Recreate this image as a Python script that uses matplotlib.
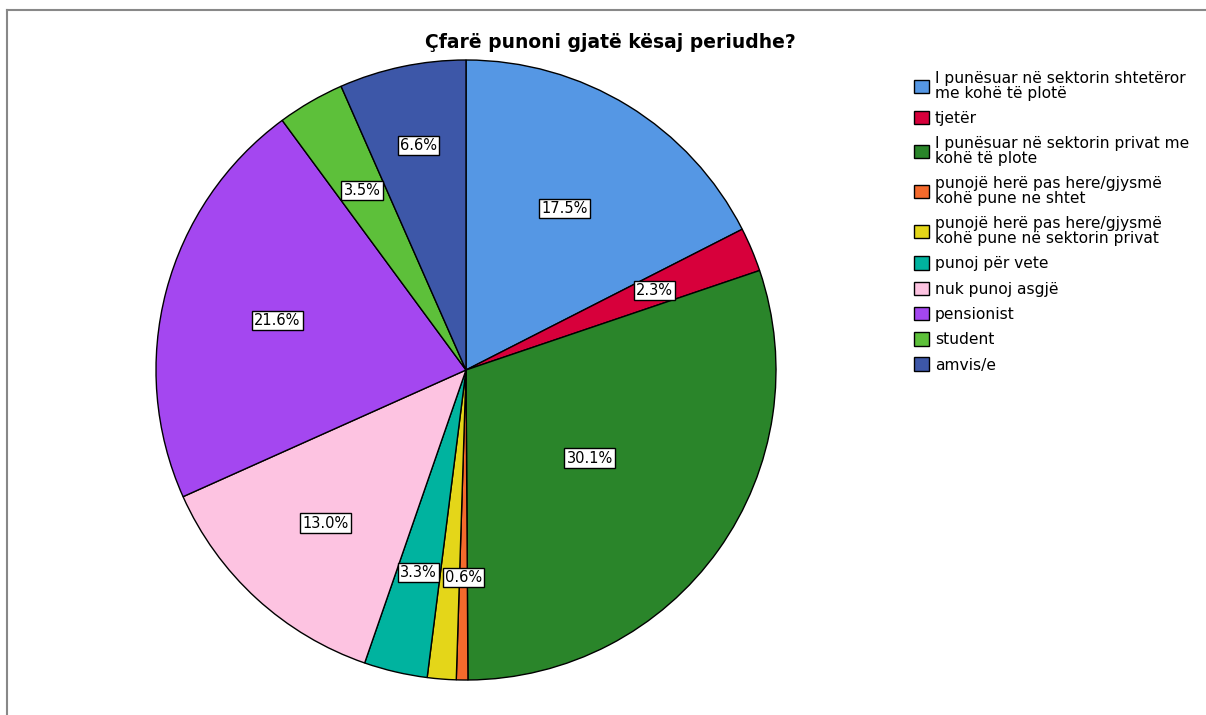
import numpy as np
import matplotlib.pyplot as plt
from matplotlib.patches import Patch

plt.rcParams['font.family'] = ['DejaVu Sans']

# categories and shares (percent), clockwise from 12 o'clock
labels = ['I punësuar në sektorin shtetëror\nme kohë të plotë',
          'tjetër',
          'I punësuar në sektorin privat me\nkohë të plote',
          'punojë herë pas here/gjysmë\nkohë pune ne shtet',
          'punojë herë pas here/gjysmë\nkohë pune në sektorin privat',
          'punoj për vete',
          'nuk punoj asgjë',
          'pensionist',
          'student',
          'amvis/e']
shares = [17.5, 2.3, 30.1, 0.6, 1.5, 3.3, 13.0, 21.6, 3.5, 6.6]
show_label = [True, True, True, True, False, True, True, True, True, True]
colors = ['#5597e4', '#d7003b', '#2a852a', '#f46a2c', '#e4d619',
          '#00b39f', '#fdc3e1', '#a447f0', '#5dc03a', '#3d57a8']
# radial position of each percentage box (fraction of radius)
label_r = [0.61, 0.66, 0.49, 0.67, 0.67, 0.67, 0.67, 0.63, 0.67, 0.74]

W, H = 1206, 715
fig = plt.figure(figsize=(W / 100, H / 100), dpi=100)

# thin grey frame at top and left
fig.add_artist(plt.Line2D([7 / W, 1], [1 - 10 / H, 1 - 10 / H], color='#888888', lw=1.5))
fig.add_artist(plt.Line2D([7 / W, 7 / W], [0, 1 - 10 / H], color='#888888', lw=1.5))

cx, cy, r = 466, 370, 310
ax = fig.add_axes([(cx - r) / W, (H - cy - r) / H, 2 * r / W, 2 * r / H])
wedges, _ = ax.pie(shares, colors=colors, startangle=90, counterclock=False,
                   wedgeprops=dict(edgecolor='black', linewidth=1.0))
ax.set_xlim(-1, 1)
ax.set_ylim(-1, 1)
ax.set_aspect('equal')
ax.axis('off')

total = sum(shares)
start = 0.0
for v, show, lr in zip(shares, show_label, label_r):
    mid = (start + v / 2) / total * 2 * np.pi
    start += v
    if not show:
        continue
    x = lr * np.sin(mid)
    y = lr * np.cos(mid)
    ax.text(x, y, f'{v:.1f}%', ha='center', va='center', fontsize=10.5,
            bbox=dict(boxstyle='square,pad=0.15', facecolor='white',
                      edgecolor='black', linewidth=1.0))

fig.text(610 / W, 1 - 43 / H, 'Çfarë punoni gjatë kësaj periudhe?',
         ha='center', va='center', fontsize=13.5, fontweight='bold')

handles = [Patch(facecolor=c, edgecolor='black', linewidth=1.0) for c in colors]
leg = fig.legend(handles, labels, loc='upper left', bbox_to_anchor=(906 / W, 1 - 63 / H),
                 frameon=False, fontsize=11.2, handlelength=0.95, handleheight=0.95,
                 handletextpad=0.42, labelspacing=0.66, borderpad=0)
for t in leg.get_texts():
    t.set_linespacing(0.98)

fig.savefig('out.png', dpi=100)
